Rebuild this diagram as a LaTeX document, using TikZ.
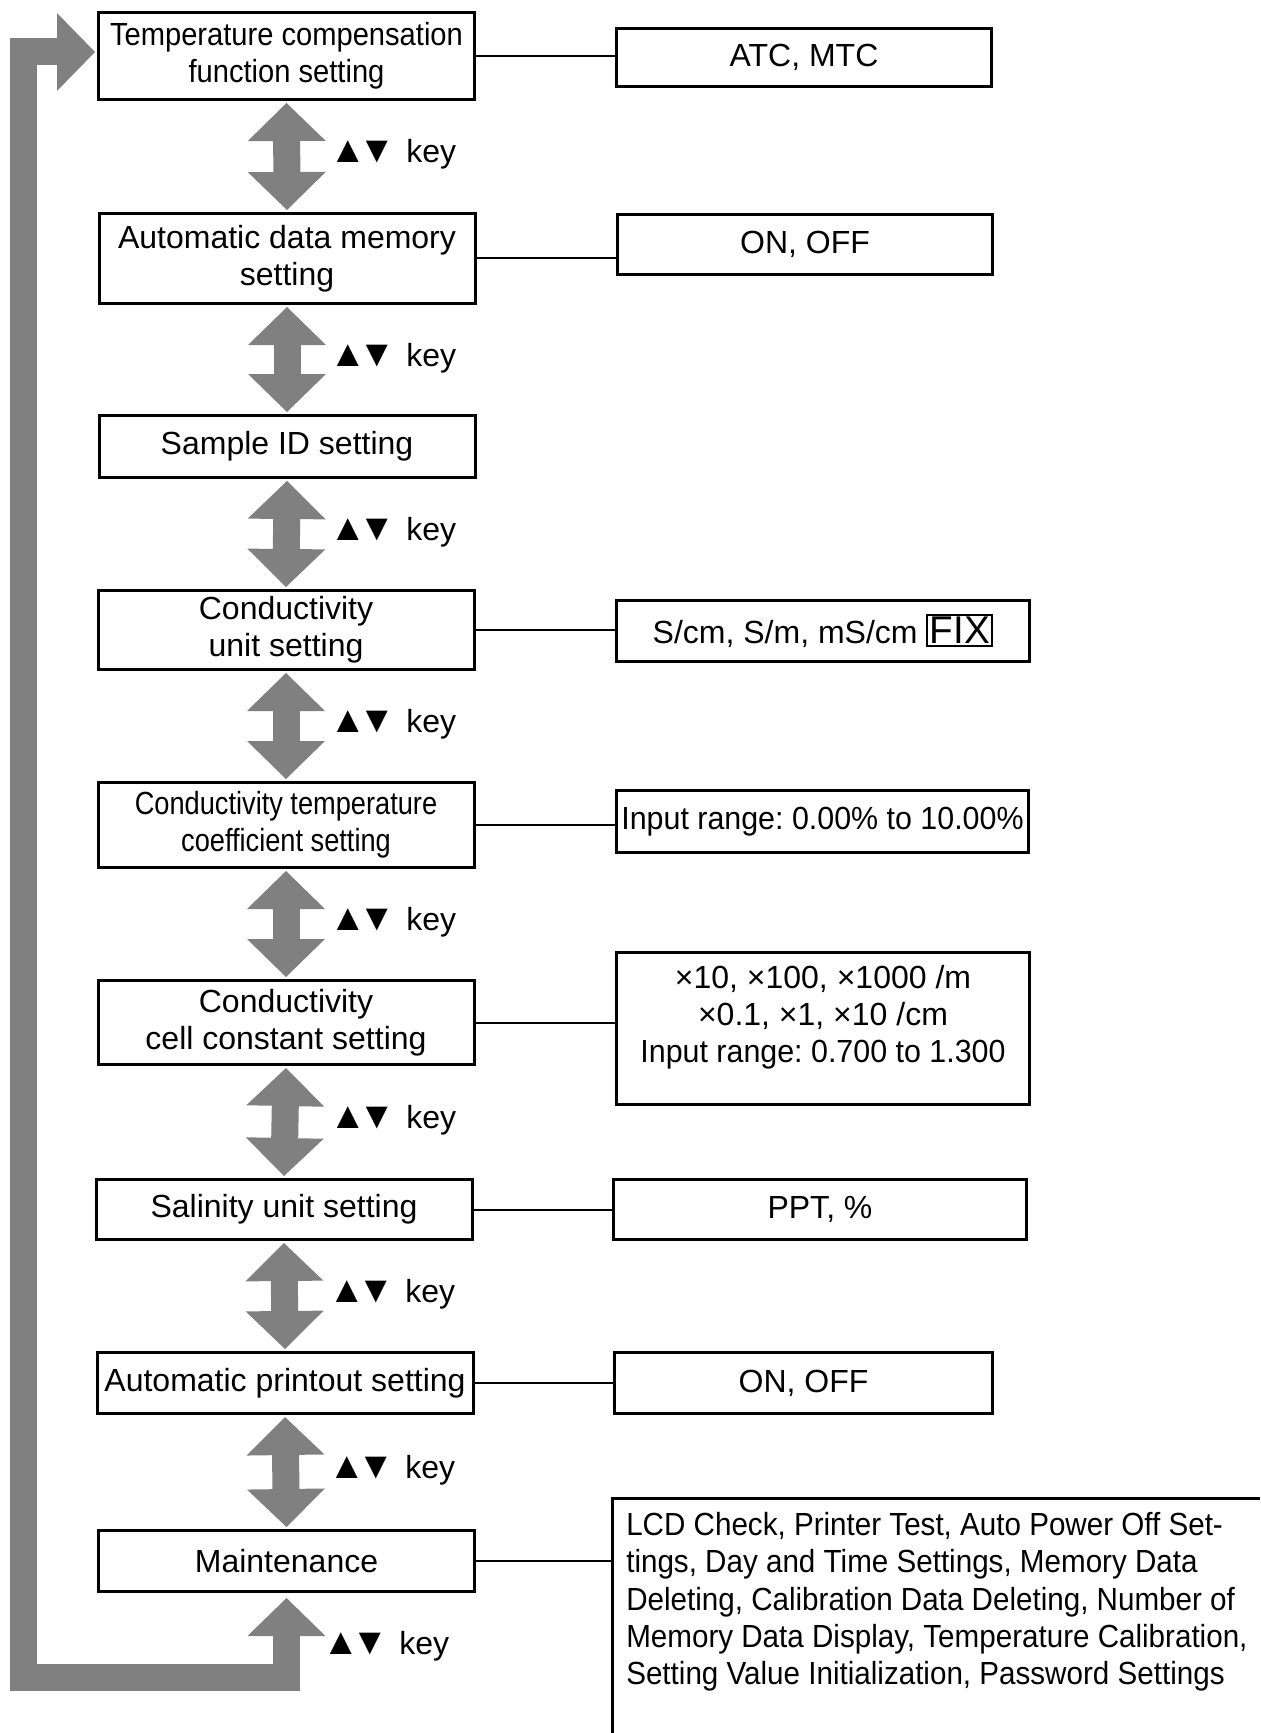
\documentclass[tikz,border=0pt]{standalone}
\usepackage{fontspec}
\setmainfont{Liberation Sans}
\newfontfamily\midfont[FakeStretch=0.95]{Liberation Sans}
\newfontfamily\narrowfont[FakeStretch=0.91]{Liberation Sans}
\newfontfamily\listfont[FakeStretch=0.925]{Liberation Sans}
\newfontfamily\narrowerfont[FakeStretch=0.85]{Liberation Sans}
\usetikzlibrary{arrows.meta}
\frenchspacing
\newcommand{\updownkey}{{\fontsize{28}{28}\selectfont ▲\kern-5.9pt▼\kern1.6pt} key}

\tikzset{
  setbox/.style={draw, line width=2.25pt, minimum width=282pt, align=center, inner sep=0pt,
    font=\fontsize{24}{28}\selectfont},
  valbox/.style={draw, line width=2.25pt, align=center, inner sep=0pt,
    font=\fontsize{24}{28}\selectfont},
  valtext/.style={align=center, inner sep=0pt, font=\fontsize{24}{28}\selectfont},
  link/.style={line width=1.5pt},
  boxline/.style={line width=2.25pt},
  flowtip/.tip={Triangle[width=58.5pt,length=28.5pt,line width=0pt]},
  updown/.style={draw=gray, line width=20.25pt, flowtip-flowtip},
  loopflow/.style={draw=gray, line width=20.25pt, line join=miter, flowtip-flowtip},
  keylabel/.style={anchor=base west, inner sep=0pt, font=\fontsize{24}{28}\selectfont},
}

\begin{document}
\begin{tikzpicture}[x=0.75pt,y=-0.75pt]
\useasboundingbox (0,0) rectangle (1260,1733);

%% setting boxes
\node[setbox, minimum height=65.25pt] (b1) at (286.5,56) {\narrowfont Temperature compensation\\\narrowfont function setting};
\node[setbox, minimum height=67.5pt] (b2) at (287,258.5) {Automatic data memory\\setting};
\node[setbox, minimum height=46.5pt] (b3) at (287,446.5) {Sample ID setting};
\node[setbox, minimum height=59.25pt] (b4) at (286,630) {Conductivity\\unit setting};
\node[setbox, minimum height=63.75pt] (b5) at (286,825) {\narrowerfont Conductivity temperature\\\narrowerfont coefficient setting};
\node[setbox, minimum height=63pt] (b6) at (286,1022.5) {Conductivity\\cell constant setting};
\node[setbox, minimum height=45pt] (b7) at (284,1209.5) {Salinity unit setting};
\node[setbox, minimum height=45.75pt] (b8) at (285,1383) {Automatic printout setting};
\node[setbox, minimum height=45.75pt] (b9) at (286.5,1561) {Maintenance};

%% value boxes
\node[valbox, minimum width=281.25pt, minimum height=43.5pt] (r1) at (804,57.5) {ATC, MTC};
\node[valbox, minimum width=281.25pt, minimum height=45pt] (r2) at (805,244.5) {ON, OFF};
\node[valbox, minimum width=309.75pt, minimum height=45.75pt] (r4) at (823,631)
  {S/cm, S/m, mS/cm {\setlength{\fboxsep}{1pt}\setlength{\fboxrule}{1.5pt}\fbox{\fontsize{29}{30}\selectfont FIX}}};
\node[valbox, minimum width=309pt, minimum height=46.5pt] (r5) at (822.5,821.5) {\midfont Input range: 0.00\% to 10.00\%};
\node[valbox, minimum width=309.75pt, minimum height=114pt] (r6) at (823,1028.5) {};
\node[valtext] (r6t) at ([yshift=8.5pt]r6.center) {×10, ×100, ×1000 /m\\×0.1, ×1, ×10 /cm\\\midfont Input range: 0.700 to 1.300};
\node[valbox, minimum width=309.75pt, minimum height=45pt] (r7) at (820,1209.5) {PPT, \%};
\node[valbox, minimum width=283.5pt, minimum height=45.75pt] (r8) at (803.5,1383) {ON, OFF};

%% maintenance list (open box)
\coordinate (r9) at (612,1498);
\draw[boxline] (1260,1498) -| (612,1733);
\node[anchor=north west, align=left, inner xsep=10.5pt, inner ysep=10.5pt,
  font=\listfont\fontsize{24}{28}\selectfont] (r9t) at (r9)
  {LCD Check, Printer Test, Auto Power Off Set-\\
   tings, Day and Time Settings, Memory Data\\
   Deleting, Calibration Data Deleting, Number of\\
   Memory Data Display, Temperature Calibration,\\
   Setting Value Initialization, Password Settings};

%% links
\draw[link] (b1.east) -- (b1.east -| r1.west);
\draw[link] (b2.east) -- (b2.east -| r2.west);
\draw[link] (b4.east) -- (b4.east -| r4.west);
\draw[link] (b5.east) -- (b5.east -| r5.west);
\draw[link] (b6.east) -- (b6.east -| r6.west);
\draw[link] (b7.east) -- (b7.east -| r7.west);
\draw[link] (b8.east) -- (b8.east -| r8.west);
\draw[link] (b9.east) -- (b9.east -| r9);

%% up/down arrows
\draw[updown] ([yshift=-1.5pt]b1.south) -- ([yshift=1.5pt]b2.north);
\draw[updown] ([yshift=-1.5pt]b2.south) -- ([yshift=1.5pt]b3.north);
\draw[updown] ([yshift=-1.5pt]b3.south) -- ([yshift=1.5pt]b4.north);
\draw[updown] ([yshift=-1.5pt]b4.south) -- ([yshift=1.5pt]b5.north);
\draw[updown] ([yshift=-1.5pt]b5.south) -- ([yshift=1.5pt]b6.north);
\draw[updown] ([yshift=-1.5pt]b6.south) -- ([yshift=1.5pt]b7.north);
\draw[updown] ([yshift=-1.5pt]b7.south) -- ([yshift=1.5pt]b8.north);
\draw[updown] ([yshift=-1.5pt]b8.south) -- ([yshift=1.5pt]b9.north);

%% key labels
\node[keylabel] (k1) at (329,163) {\updownkey};
\node[keylabel] (k2) at (329,366) {\updownkey};
\node[keylabel] (k3) at (329,540.5) {\updownkey};
\node[keylabel] (k4) at (329,732.5) {\updownkey};
\node[keylabel] (k5) at (329,930.5) {\updownkey};
\node[keylabel] (k6) at (329,1128.5) {\updownkey};
\node[keylabel] (k7) at (328,1302.5) {\updownkey};
\node[keylabel] (k8) at (328,1478.5) {\updownkey};

%% loop back to the top
\coordinate (lc) at (23.5,1677.5);
\draw[loopflow] ([yshift=-3.75pt]b9.south) |- (lc) |- ([xshift=-1.5pt,yshift=3pt]b1.west);
\node[keylabel] (k9) at (322,1654) {\updownkey};

\end{tikzpicture}
\end{document}
